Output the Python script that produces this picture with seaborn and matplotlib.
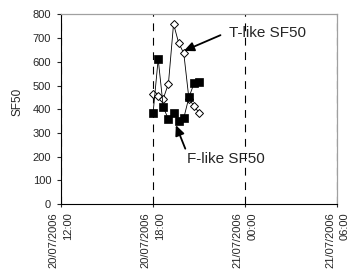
import matplotlib
matplotlib.use('Agg')
import matplotlib.pyplot as plt
import seaborn as sns
import pandas as pd

# Sample times (20 min steps through the evening of 20/07/2006)
times = ['2006-07-20 18:00', '2006-07-20 18:20', '2006-07-20 18:40', '2006-07-20 19:00',
         '2006-07-20 19:20', '2006-07-20 19:40', '2006-07-20 20:00', '2006-07-20 20:20',
         '2006-07-20 20:40', '2006-07-20 21:00']
t_like = [465, 455, 445, 508, 760, 680, 636, 445, 413, 385]
f_like = [383, 612, 408, 358, 385, 351, 363, 450, 509, 513]

x_start, x_end = '2006-07-20 12:00', '2006-07-21 06:00'
x_ticks = ['2006-07-20 12:00', '2006-07-20 18:00', '2006-07-21 00:00', '2006-07-21 06:00']
x_labels = ['20/07/2006\n12:00', '20/07/2006\n18:00', '21/07/2006\n00:00', '21/07/2006\n06:00']
y_ticks = [0, 100, 200, 300, 400, 500, 600, 700, 800]

df = pd.DataFrame({'time': pd.to_datetime(times), 'T': t_like, 'F': f_like})

sns.set_style('white')
plt.rcParams['font.family'] = ['Liberation Sans', 'DejaVu Sans']

fig = plt.figure(figsize=(3.5, 2.76), dpi=100)
ax = fig.add_axes([0.174, 0.261, 0.79, 0.6865])

sns.lineplot(data=df, x='time', y='T', ax=ax, color='black', lw=0.6, marker='D',
             markersize=4.4, markerfacecolor='white', markeredgecolor='black',
             markeredgewidth=0.7, sort=False, estimator=None, zorder=3)
sns.lineplot(data=df, x='time', y='F', ax=ax, color='black', lw=0.6, marker='s',
             markersize=6.3, markerfacecolor='black', markeredgecolor='black',
             markeredgewidth=0.5, sort=False, estimator=None, zorder=4)

ax.set_xlim(pd.Timestamp(x_start), pd.Timestamp(x_end))
ax.set_ylim(0, 800)
ax.set_yticks(y_ticks)
tick_pos = pd.to_datetime(x_ticks)
ax.set_xticks(tick_pos)
ax.set_xticklabels([])

ax.grid(axis='x', color='black', lw=0.8, dashes=(7, 6))
ax.grid(axis='y', visible=False)

for s in ['left', 'bottom']:
    ax.spines[s].set_color('black')
    ax.spines[s].set_linewidth(0.8)
for s in ['top', 'right']:
    ax.spines[s].set_color('#a0a0a0')
    ax.spines[s].set_linewidth(0.9)

ax.tick_params(axis='y', direction='out', length=3, width=0.8, pad=4, labelsize=8, left=True)
ax.tick_params(axis='x', direction='out', length=2.5, width=0.8, bottom=True)

# two-line rotated tick labels, lines aligned at the top like Excel
xt = ax.get_xaxis_transform()
for pos, lab in zip(tick_pos, x_labels):
    ax.text(pos, -0.045, lab, transform=xt, rotation=90, rotation_mode='anchor',
            ha='right', va='center', multialignment='right', linespacing=1.6,
            fontsize=8, clip_on=False)

ax.set_xlabel('')
ax.set_ylabel('SF50', fontsize=8.5)
ax.yaxis.set_label_coords(-0.137, 0.538)

t_pt = df['time'][6]
ax.annotate('T-like SF50', xy=(t_pt, t_like[6] + 10),
            xytext=(pd.Timestamp('2006-07-20 22:56'), 722),
            fontsize=11, ha='left', va='center',
            arrowprops=dict(arrowstyle='-|>,head_length=0.55,head_width=0.25',
                            color='black', lw=1.3, relpos=(0, 0.6), shrinkA=4, shrinkB=0))
ax.annotate('F-like SF50', xy=(pd.Timestamp('2006-07-20 19:29'), 333),
            xytext=(pd.Timestamp('2006-07-20 20:11'), 190),
            fontsize=11, ha='left', va='center',
            arrowprops=dict(arrowstyle='-|>,head_length=0.55,head_width=0.25',
                            color='black', lw=1.3, relpos=(0, 1), shrinkA=0, shrinkB=0))

fig.savefig('out.png', dpi=100)
